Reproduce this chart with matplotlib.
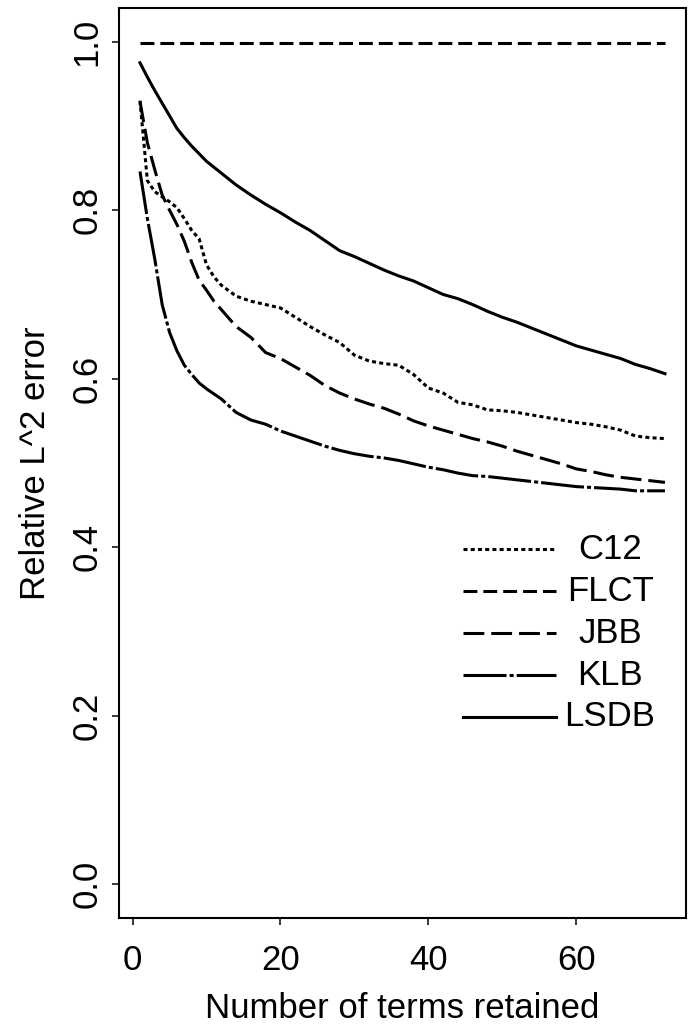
import matplotlib
matplotlib.use("Agg")
import matplotlib.pyplot as plt

plt.rcParams['font.family'] = ['Liberation Sans', 'DejaVu Sans']
plt.rcParams['lines.scale_dashes'] = False

# number of terms retained
terms = [1, 2, 3, 4, 5, 6, 7, 8, 9, 10, 11, 12, 14, 16, 18, 20, 22, 24, 26, 28,
         30, 32, 34, 36, 38, 40, 42, 44, 46, 48, 50, 52, 54, 56, 58, 60, 62, 64,
         66, 68, 70, 72]

c12 = [0.930, 0.835, 0.822, 0.816, 0.810, 0.803, 0.790, 0.776, 0.766, 0.735,
       0.721, 0.711, 0.698, 0.692, 0.688, 0.684, 0.673, 0.662, 0.652, 0.643,
       0.628, 0.621, 0.618, 0.616, 0.605, 0.589, 0.583, 0.572, 0.569, 0.563,
       0.562, 0.560, 0.557, 0.554, 0.551, 0.548, 0.546, 0.543, 0.539, 0.532,
       0.530, 0.529]
flct = [0.999] * len(terms)
jbb = [0.929, 0.880, 0.848, 0.818, 0.800, 0.783, 0.763, 0.738, 0.717, 0.705,
       0.692, 0.682, 0.662, 0.649, 0.631, 0.624, 0.614, 0.604, 0.592, 0.583,
       0.576, 0.570, 0.565, 0.558, 0.550, 0.544, 0.539, 0.534, 0.529, 0.525,
       0.520, 0.514, 0.509, 0.504, 0.499, 0.493, 0.490, 0.486, 0.483, 0.481,
       0.479, 0.477]
klb = [0.846, 0.790, 0.742, 0.688, 0.655, 0.633, 0.616, 0.605, 0.595, 0.588,
       0.582, 0.576, 0.560, 0.551, 0.546, 0.538, 0.532, 0.526, 0.520, 0.515,
       0.511, 0.508, 0.506, 0.503, 0.499, 0.495, 0.492, 0.488, 0.485, 0.484,
       0.482, 0.480, 0.478, 0.476, 0.474, 0.472, 0.471, 0.470, 0.469, 0.467,
       0.467, 0.467]
lsdb = [0.975, 0.958, 0.942, 0.927, 0.912, 0.897, 0.886, 0.876, 0.867, 0.858,
        0.851, 0.844, 0.830, 0.818, 0.807, 0.797, 0.786, 0.776, 0.764, 0.752,
        0.745, 0.737, 0.729, 0.722, 0.716, 0.708, 0.700, 0.695, 0.688, 0.680,
        0.673, 0.667, 0.660, 0.653, 0.646, 0.639, 0.634, 0.629, 0.624, 0.617,
        0.612, 0.606]

names = ['C12', 'FLCT', 'JBB', 'KLB', 'LSDB']
series = [c12, flct, jbb, klb, lsdb]
# dash patterns in points (R style line types)
styles = [(0, (2.9, 2.3)),
          (0, (10, 4.3)),
          (0, (15, 5)),
          (0, (31, 2.2, 2.9, 2.2)),
          '-']

xticks = [0, 20, 40, 60]
yticks = [0.0, 0.2, 0.4, 0.6, 0.8, 1.0]

fig = plt.figure(figsize=(6.93, 10.24), dpi=100)
ax = fig.add_axes([0.1717, 0.1035, 0.8182, 0.8887])

for vals, ls in zip(series, styles):
    ax.plot(terms, vals, color='black', lw=2.2, linestyle=ls)

ax.set_xlim(-1.84, 74.84)
ax.set_ylim(-0.04, 1.04)
ax.set_xticks(xticks)
ax.set_yticks(yticks)
ax.set_yticklabels(['%.1f' % v for v in yticks])

for s in ax.spines.values():
    s.set_linewidth(1.5)
ax.tick_params(direction='out', length=5, width=1.1, labelsize=25)
ax.tick_params(axis='x', pad=13.5)
ax.tick_params(axis='y', pad=6, labelrotation=90)
for t in ax.get_yticklabels():
    t.set_va('center')

ax.set_xlabel('Number of terms retained', fontsize=25, va='baseline')
ax.set_ylabel('Relative L^2 error', fontsize=25, va='center')
ax.xaxis.set_label_coords(0.5, -0.1099)
ax.yaxis.set_label_coords(-0.148, 0.5)

# legend drawn by hand: sample lines with centred labels
row_y = [0.405, 0.359, 0.313, 0.267, 0.221]
for name, ls, y in zip(names, styles, row_y):
    ax.plot([0.607, 0.771], [y, y], transform=ax.transAxes, color='black',
            lw=2.2, linestyle=ls)
    ax.text(0.866, y, name, transform=ax.transAxes, fontsize=25,
            ha='center', va='center')

fig.savefig('out.png', dpi=100)
